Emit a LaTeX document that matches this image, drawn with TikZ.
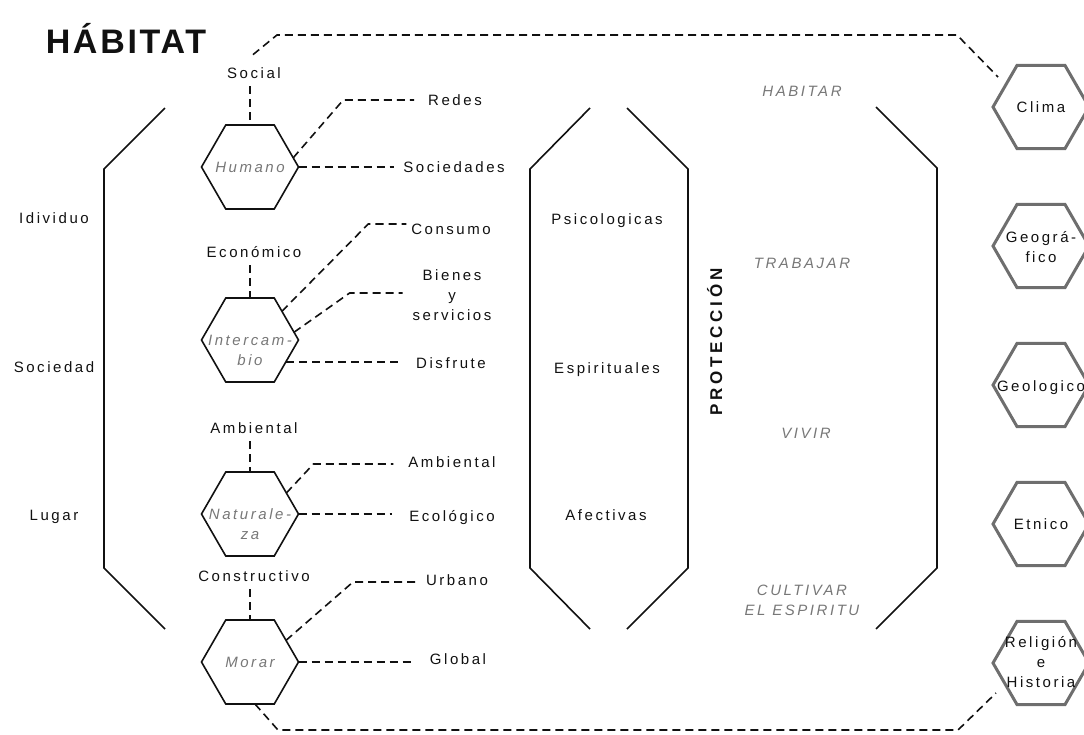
\documentclass[tikz,border=0pt]{standalone}
\usepackage{fontspec}
\setmainfont{Liberation Sans}[LetterSpace=17]
\newfontfamily\titfont{Liberation Sans}[LetterSpace=8]
\newfontfamily\protfont{Liberation Sans}[LetterSpace=22]
\usetikzlibrary{shapes.geometric,calc}
\definecolor{txtgray}{HTML}{777777}
\definecolor{hexgray}{HTML}{6E6E6E}
\definecolor{ink}{HTML}{111111}
\begin{document}
\begin{tikzpicture}[x=1pt,y=-1pt,
  every node/.style={inner sep=0pt, outer sep=0pt, text=ink, font=\fontsize{15}{20}\selectfont},
  one/.style={text height=10.74pt, text depth=0pt},
  hexL/.style={regular polygon, regular polygon sides=6, minimum size=97pt, draw=ink, line width=1.6pt},
  hexR/.style={regular polygon, regular polygon sides=6, minimum size=96pt, draw=hexgray, line width=3pt},
  hexin/.style={font=\itshape\fontsize{15}{20}\selectfont, text=txtgray, align=center},
  verb/.style={font=\itshape\fontsize{15}{20}\selectfont, text=txtgray, align=center},
  dsh/.style={draw=ink, dash pattern=on 8pt off 5pt, line width=1.6pt},
  brk/.style={draw=ink, line width=1.6pt, line join=miter},
]
\useasboundingbox (0,0) rectangle (1084,734);

% title
\node[font=\titfont\bfseries\fontsize{34}{36}\selectfont, text height=24.3pt, text depth=0pt] (title) at (126,41) {HÁBITAT};

% left labels
\node[one] (ind) at (54,218) {Idividuo};
\node[one] (socd) at (54,367) {Sociedad};
\node[one] (lug) at (54,515) {Lugar};

% brackets
\draw[brk] (165,108) -- (104,169) -- (104,568) -- (165,629);
\draw[brk] (590,108) -- (530,169) -- (530,568) -- (590,629);
\draw[brk] (627,108) -- (688,169) -- (688,568) -- (627,629);
\draw[brk] (876,107) -- (937,168) -- (937,568) -- (876,629);

% left hexagons
\node[hexL] (hum) at (250,167) {};
\node[hexL] (int) at (250,340) {};
\node[hexL] (nat) at (250,514) {};
\node[hexL] (mor) at (250,662) {};
\node[hexin, one] (humt) at (hum) {Humano};
\node[hexin] (intt) at (250,350) {Intercam-\\bio};
\node[hexin] (natt) at (250,524) {Naturale-\\za};
\node[hexin, one] (mort) at (mor) {Morar};

% labels above hexagons
\node[one] (soc) at (254,73) {Social};
\node[one] (eco) at (254,252) {Económico};
\node[one] (amb) at (254,428) {Ambiental};
\node[one] (con) at (254,576) {Constructivo};
\draw[dsh, shorten <=8pt] (hum.north |- soc.south) -- (hum.north);
\draw[dsh, shorten <=8pt] (int.north |- eco.south) -- (int.north);
\draw[dsh, shorten <=8pt] (nat.north |- amb.south) -- (nat.north);
\draw[dsh, shorten <=8pt] (mor.north |- con.south) -- (mor.north);

% branch labels
\node[one] (red) at (455,100) {Redes};
\node[one] (sds) at (454,167) {Sociedades};
\node[one] (cns) at (451,229) {Consumo};
\node[align=center] (bys) at (452,295) {Bienes\\y\\servicios};
\node[one] (dis) at (451,363) {Disfrute};
\node[one] (amb2) at (452,462) {Ambiental};
\node[one] (eclg) at (452,516) {Ecológico};
\node[one] (urb) at (457,580) {Urbano};
\node[one] (glb) at (458,659) {Global};

% branch connectors
\draw[dsh] (hum.12) -- ($(red.west)+(-85,0)$) -- ($(red.west)+(-14,0)$);
\draw[dsh, shorten >=9pt] (hum.east) -- (hum.east -| sds.west);
\draw[dsh] (int.42) -- ($(cns.west)+(-43,-5)$) -- ($(cns.west)+(-5,-5)$);
\draw[dsh] (int.10) -- ($(bys.west)+(-63,-2)$) -- ($(bys.west)+(-10,-2)$);
\coordinate (disS) at ($(int.-31)+(0,0.4)$);
\draw[dsh, shorten >=16pt] (disS) -- (disS -| dis.west);
\draw[dsh] (nat.30) -- ($(amb2.west)+(-95,2)$) -- ($(amb2.west)+(-15,2)$);
\draw[dsh, shorten >=17pt] (nat.east) -- (nat.east -| eclg.west);
\draw[dsh] (mor.31) -- ($(urb.west)+(-73,2)$) -- ($(urb.west)+(-11,2)$);
\draw[dsh, shorten >=18pt] (mor.east) -- (mor.east -| glb.west);

% middle column
\node[one] (psi) at (607,219) {Psicologicas};
\node[one] (esp) at (607,368) {Espirituales};
\node[one] (afe) at (606,515) {Afectivas};
\node[rotate=90, font=\protfont\bfseries\fontsize{17}{20}\selectfont, text height=12.2pt, text depth=0pt] (prot) at (716,342) {PROTECCIÓN};

% verbs
\node[verb, one] (hab) at (802,91) {HABITAR};
\node[verb, one] (tra) at (802,263) {TRABAJAR};
\node[verb, one] (viv) at (806,433) {VIVIR};
\node[verb] (cul) at (802,600) {CULTIVAR\\EL ESPIRITU};

% right hexagons
\node[hexR] (cli) at (1041,107) {};
\node[hexR] (geo) at (1041,246) {};
\node[hexR] (glo) at (1041,385) {};
\node[hexR] (etn) at (1041,524) {};
\node[hexR] (rel) at (1041,663) {};
\node[one] (clit) at (cli) {Clima};
\node[align=center] (geot) at (1041,247) {Geográ-\\fico};
\node[one] (glot) at (1041,386) {Geologico};
\node[one] (etnt) at (etn) {Etnico};
\node[align=center] (relt) at (1041,662) {Religión\\e\\Historia};

% outer dashed loop
\coordinate (lpA) at ($(soc.north)+(-1,-13)$);
\coordinate (lpB) at ($(cli.west)+(5,-30)$);
\coordinate (lpC) at ($(rel.west)+(3,30)$);
\draw[dsh] (lpA) -- (277,35) -- (957,35) -- (lpB);
\draw[dsh] ([xshift=5pt]mor.south) -- (278,730) -- (958,730) -- (lpC);
\end{tikzpicture}
\end{document}
